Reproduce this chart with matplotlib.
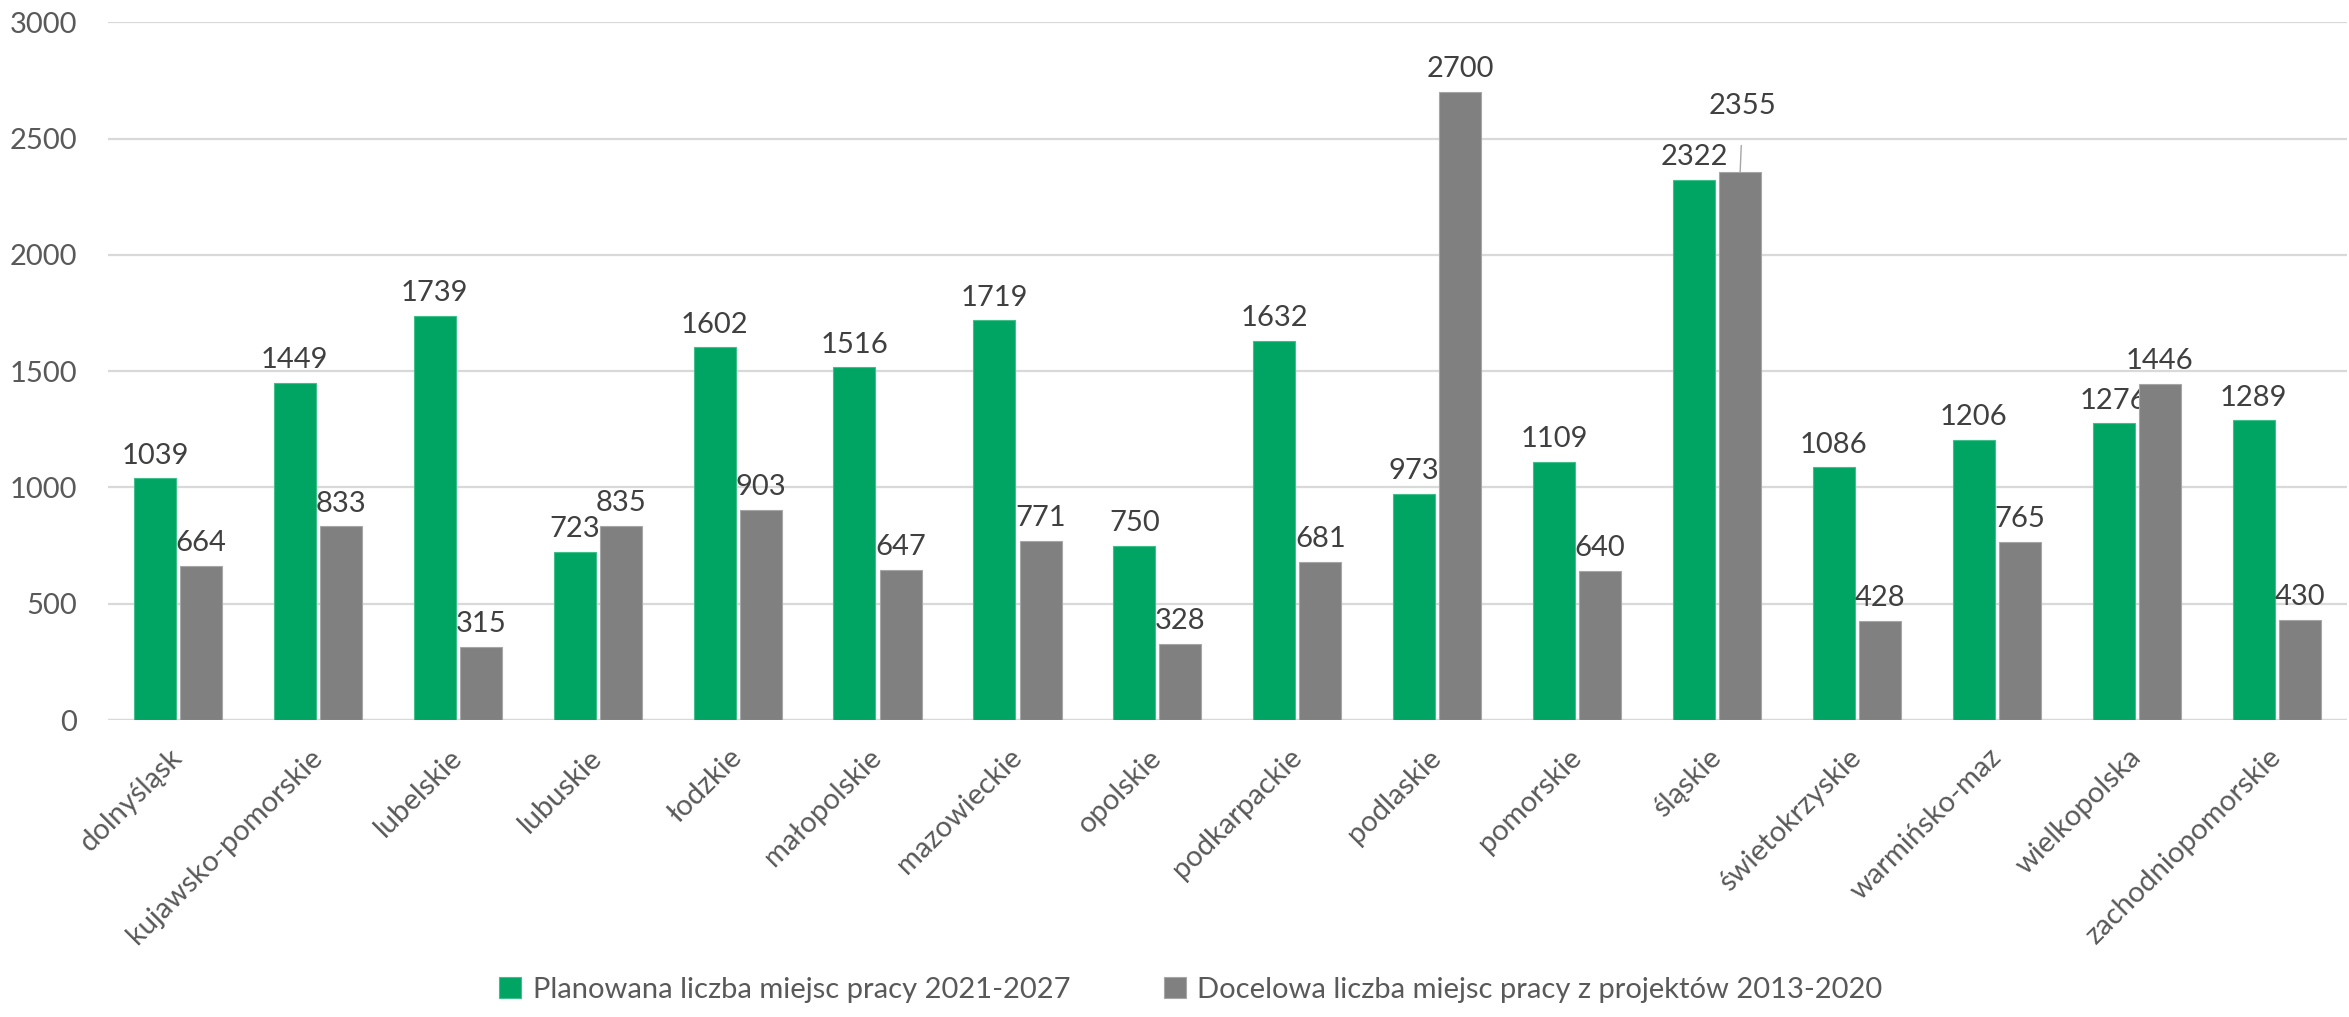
import matplotlib.pyplot as plt
import numpy as np

plt.rcParams['font.family'] = ['Lato', 'DejaVu Sans']

regions = ['dolnyśląsk', 'kujawsko-pomorskie', 'lubelskie', 'lubuskie', 'łodzkie',
           'małopolskie', 'mazowieckie', 'opolskie', 'podkarpackie', 'podlaskie',
           'pomorskie', 'śląskie', 'świetokrzyskie', 'warmińsko-maz', 'wielkopolska',
           'zachodniopomorskie']
planned = [1039, 1449, 1739, 723, 1602, 1516, 1719, 750, 1632, 973, 1109, 2322, 1086, 1206, 1276, 1289]
target = [664, 833, 315, 835, 903, 647, 771, 328, 681, 2700, 640, 2355, 428, 765, 1446, 430]
labels = ['Planowana liczba miejsc pracy 2021-2027',
          'Docelowa liczba miejsc pracy z projektów 2013-2020']
yticks = [0, 500, 1000, 1500, 2000, 2500, 3000]

green = '#00A563'
gray = '#808080'
fs = 21

fig = plt.figure(figsize=(23.49, 10.17), dpi=100)
ax = fig.add_axes([0.046, 0.292, 0.953, 0.686])

x = np.arange(len(regions))
w = 0.3
off = 0.165
b1 = ax.bar(x - off, planned, w, color=green, edgecolor='#3FC08A', linewidth=0.8, label=labels[0], zorder=3)
b2 = ax.bar(x + off, target, w, color=gray, edgecolor='#A6A6A6', linewidth=0.8, label=labels[1], zorder=3)

lbl_color = '#404040'
for xi, v in zip(x - off, planned):
    ax.annotate(str(v), (xi, v), xytext=(0, 7), textcoords='offset points',
                ha='center', va='bottom', fontsize=fs, color=lbl_color, zorder=2)
for i, (xi, v) in enumerate(zip(x + off, target)):
    if regions[i] == 'śląskie':
        # label pushed up with leader line
        ax.annotate(str(v), (xi, v), xytext=(xi + 0.02, v + 285), textcoords='data',
                    ha='center', va='center', fontsize=fs, color=lbl_color,
                    arrowprops=dict(arrowstyle='-', color='#A6A6A6', lw=1,
                                    shrinkA=17, shrinkB=0), zorder=4)
    else:
        ax.annotate(str(v), (xi, v), xytext=(0, 7), textcoords='offset points',
                    ha='center', va='bottom', fontsize=fs, color=lbl_color, zorder=4)

ax.set_xlim(-0.5, len(regions) - 0.5)
ax.set_ylim(0, 3000)
ax.set_yticks(yticks)
ax.set_yticklabels([str(t) for t in yticks], fontsize=fs, color='#595959')
ax.set_xticks(x)
ax.set_xticklabels(regions, rotation=45, ha='right', va='center', rotation_mode='anchor',
                   fontsize=fs, color='#595959')
ax.tick_params(axis='both', length=0)
ax.tick_params(axis='y', pad=22)
ax.tick_params(axis='x', pad=24)
ax.grid(axis='y', color='#D9D9D9', linewidth=1.6, zorder=0)
for s in ax.spines.values():
    s.set_visible(False)
ax.axhline(0, color='#D9D9D9', linewidth=1.6, zorder=1)

fig.legend(handles=[b1, b2], labels=labels, loc='lower center', bbox_to_anchor=(0.507, -0.012),
           ncol=2, frameon=False, fontsize=fs, handlelength=0.75, handleheight=0.75,
           columnspacing=3.2, handletextpad=0.4, labelcolor='#595959')

fig.savefig('out.png', dpi=100)
